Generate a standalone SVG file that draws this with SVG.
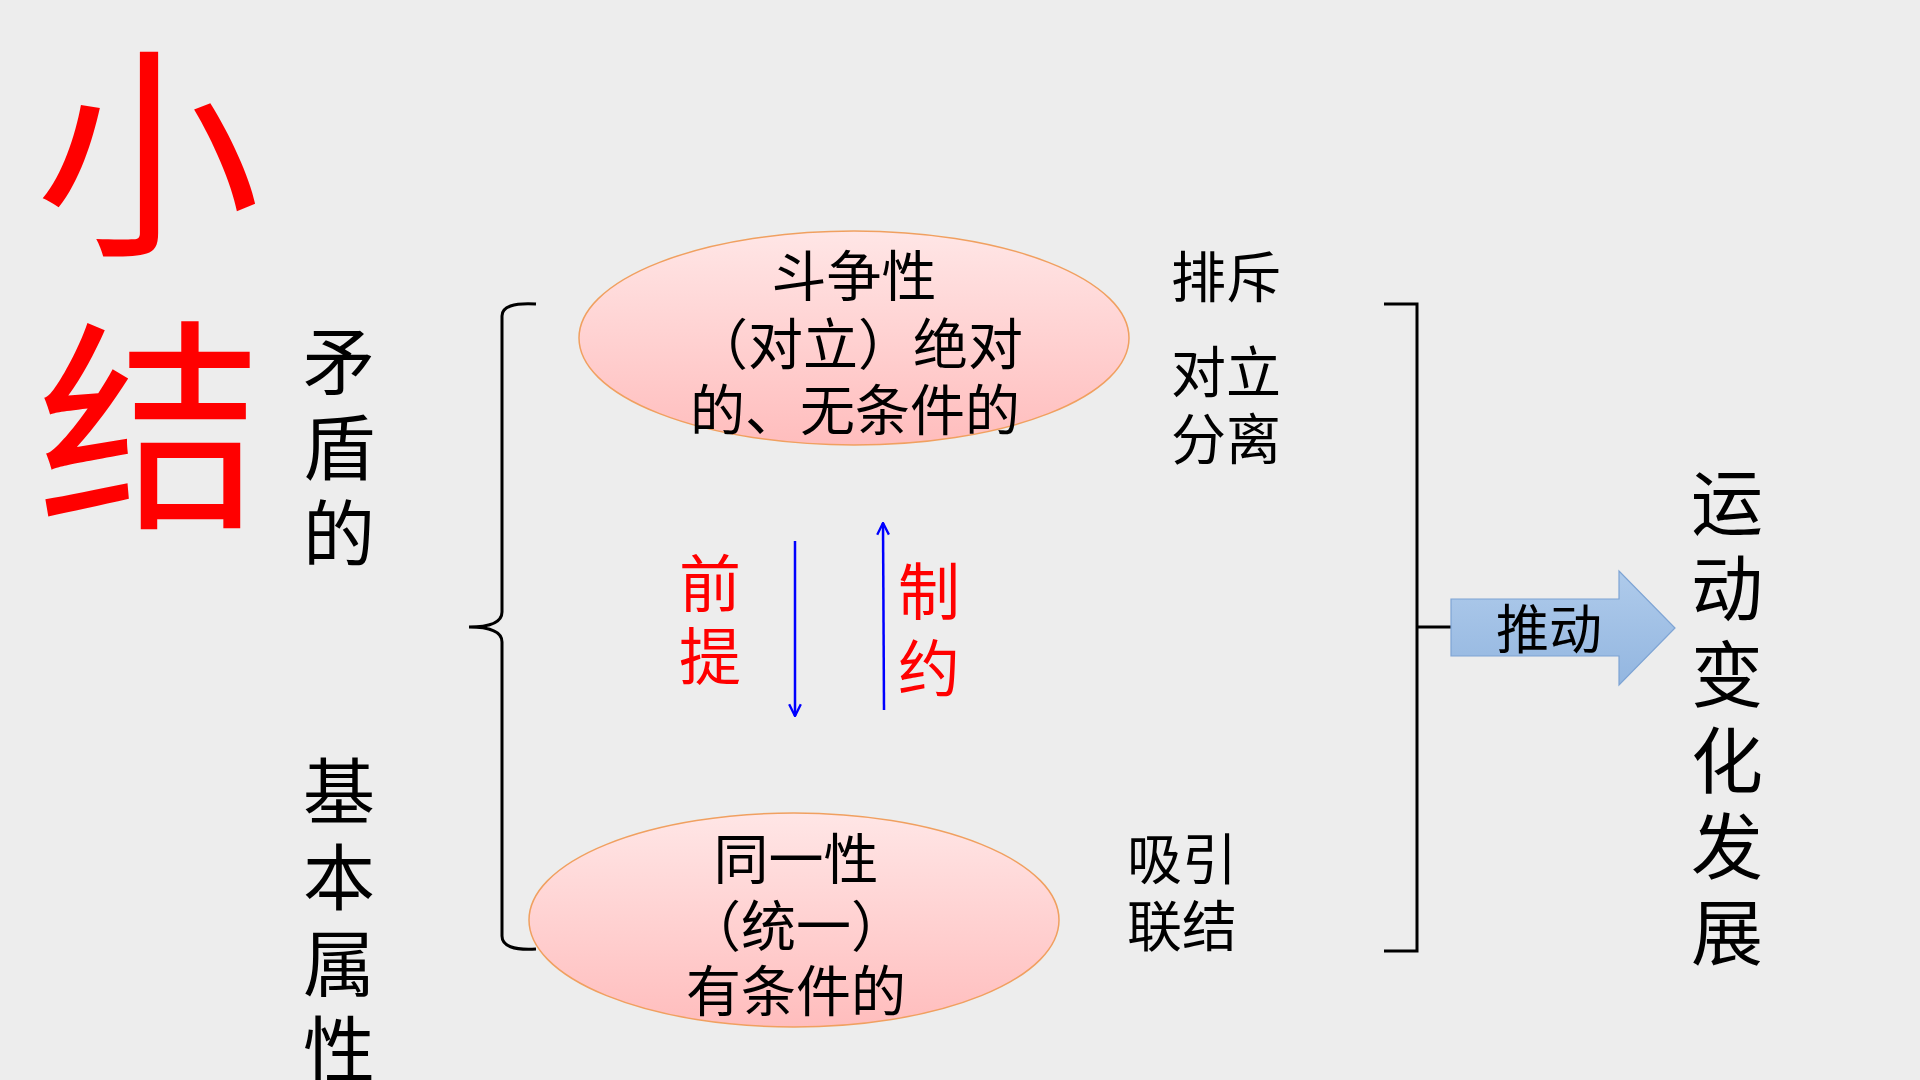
<svg xmlns="http://www.w3.org/2000/svg" width="1920" height="1080" viewBox="0 0 1920 1080">
<style>
text{font-family:"Noto Sans CJK SC","Noto Sans",sans-serif;dominant-baseline:central;}
.t{font-size:55px;fill:#000;}
.big{font-size:225px;fill:#FF0000;text-anchor:middle;}
.col{font-size:72px;fill:#000;text-anchor:middle;}
.red{font-size:62px;fill:#FF0000;text-anchor:middle;}
.mid{text-anchor:middle;}
.ell{fill:url(#pink);stroke:#F0A060;stroke-width:1.5;}
.br{fill:none;stroke:#000;stroke-width:3;}
.blue{stroke:#0000FF;stroke-width:2.5;fill:none;}
</style>
<defs>
<linearGradient id="pink" x1="0" y1="0" x2="0" y2="1">
<stop offset="0" stop-color="#FFE6E6"/>
<stop offset="1" stop-color="#FFBDBD"/>
</linearGradient>
<linearGradient id="blueg" x1="0" y1="0" x2="0" y2="1">
<stop offset="0" stop-color="#AFCBEB"/>
<stop offset="1" stop-color="#93B6E0"/>
</linearGradient>
<marker id="ah2" viewBox="0 0 12 12" refX="11" refY="6" markerWidth="14" markerHeight="14" orient="auto" markerUnits="userSpaceOnUse">
<path d="M1,1 L11,6 L1,11" fill="none" stroke="#0000FF" stroke-width="2"/>
</marker>
</defs>
<rect width="1920" height="1080" fill="#EDEDED"/>

<g id="title">
<text class="big" x="148" y="140">小</text>
<text class="big" x="150" y="413">结</text>
</g>

<g id="label-left">
<text class="col" x="339" y="356">矛</text>
<text class="col" x="339" y="442">盾</text>
<text class="col" x="339" y="528">的</text>
<text class="col" x="339" y="786">基</text>
<text class="col" x="339" y="872">本</text>
<text class="col" x="339" y="958">属</text>
<text class="col" x="339" y="1044">性</text>
</g>

<g id="connectors">
<path class="br" d="M536,304 Q502,302 502,316 L502,612 Q502,627 469,627 Q502,627 502,642 L502,936 Q502,951 536,949"/>
<path class="br" d="M1384,304 L1417,304 L1417,951 L1384,951 M1417,627 L1451,627"/>
<line class="blue" x1="795" y1="541" x2="795" y2="716" marker-end="url(#ah2)"/>
<line class="blue" x1="884" y1="710" x2="883" y2="523" marker-end="url(#ah2)"/>
</g>

<g id="node-struggle">
<ellipse class="ell" cx="854" cy="338" rx="275" ry="107"/>
<text class="t mid" x="854" y="272">斗争性</text>
<text class="t mid" x="858" y="340">（对立）绝对</text>
<text class="t mid" x="855" y="406">的、无条件的</text>
</g>

<g id="label-repel">
<text class="t" x="1171" y="273">排斥</text>
<text class="t" x="1171" y="368">对立</text>
<text class="t" x="1171" y="435">分离</text>
</g>

<g id="label-premise">
<text class="red" x="710" y="580">前</text>
<text class="red" x="710" y="653">提</text>
</g>
<g id="label-restrict">
<text class="red" x="929" y="588">制</text>
<text class="red" x="929" y="665">约</text>
</g>

<g id="node-identity">
<ellipse class="ell" cx="794" cy="920" rx="265" ry="107"/>
<text class="t mid" x="796" y="855">同一性</text>
<text class="t mid" x="796" y="922">（统一）</text>
<text class="t mid" x="796" y="987">有条件的</text>
</g>

<g id="label-attract">
<text class="t" x="1127" y="855">吸引</text>
<text class="t" x="1127" y="922">联结</text>
</g>

<g id="node-push">
<path d="M1451,599 L1619,599 L1619,571 L1675,628 L1619,685 L1619,656 L1451,656 Z" fill="url(#blueg)" stroke="#7EA4D4" stroke-width="1.2"/>
<text class="mid" x="1549" y="626" font-size="53" fill="#000">推动</text>
</g>

<g id="label-result">
<text class="col" x="1727" y="497">运</text>
<text class="col" x="1727" y="583">动</text>
<text class="col" x="1727" y="669">变</text>
<text class="col" x="1727" y="755">化</text>
<text class="col" x="1727" y="841">发</text>
<text class="col" x="1727" y="927">展</text>
</g>
</svg>
